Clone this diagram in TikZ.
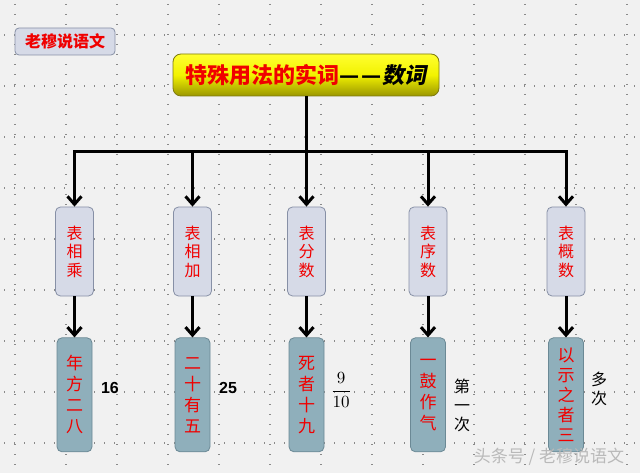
\documentclass[tikz,border=0pt]{standalone}
\usepackage{fontspec}
\setmainfont{Liberation Serif}
\newfontfamily\cjk{Noto Sans CJK SC}
\newfontfamily\cjkslant[FakeSlant=0.2]{Noto Sans CJK SC}
\newfontfamily\arial{Liberation Sans}
\usepackage{tikz}
\usetikzlibrary{arrows.meta, positioning}
\definecolor{pagegray}{HTML}{F1F1F1}
\definecolor{gridgray}{HTML}{8A8A8A}
\definecolor{wordred}{HTML}{F00000}
\definecolor{catfill}{HTML}{D6DAE7}
\definecolor{catedge}{HTML}{8790A6}
\definecolor{wordfill}{HTML}{8FAFBB}
\definecolor{wordedge}{HTML}{6B8995}
\definecolor{titletop}{HTML}{FFFF30}
\definecolor{titlebot}{HTML}{9A9600}
\definecolor{titleedge}{HTML}{7E7A10}

\begin{document}
\begin{tikzpicture}[x=1pt, y=-1pt,
    catbox/.style={draw=catedge, fill=catfill, rounded corners=5pt, line width=0.8pt,
                   minimum width=38pt, minimum height=89pt, inner sep=0pt, align=center,
                   text=wordred, font=\cjk\fontsize{16}{18.5}\selectfont},
    wordbox/.style={draw=wordedge, fill=wordfill, rounded corners=5pt, line width=0.8pt,
                    minimum width=35pt, minimum height=114pt, inner sep=0pt, align=center,
                    text=wordred, font=\cjk\fontsize{17}{21}\selectfont},
    note/.style={align=center, inner sep=0pt, font=\cjk\fontsize{16}{19}\selectfont},
    link/.style={line width=3pt, -{Straight Barb[length=8pt, width=14pt]}},
]
    % page and dotted grid
    \fill[pagegray] (0,0) rectangle (640,473);
    \useasboundingbox (0,0) rectangle (640,473);
    \foreach \gx in {15,66,...,627}
        \draw[gridgray, line width=1.1pt, dash pattern=on 1.1pt off 8.9pt] (\gx,4) -- (\gx,473);
    \foreach \gy in {35,86,...,443}
        \draw[gridgray, line width=1.1pt, dash pattern=on 1.1pt off 8.9pt] (4,\gy) -- (640,\gy);

    % tag and title
    \node[draw=catedge, fill=catfill, rounded corners=4pt, line width=0.8pt,
          minimum width=100pt, minimum height=27pt, text=wordred,
          font=\cjk\bfseries\fontsize{16}{18}\selectfont] (tag) at (65,41.5) {老穆说语文};
    \node[draw=titleedge, top color=titletop, bottom color=titlebot, middle color=yellow!95!black,
          rounded corners=8pt, line width=0.8pt, minimum width=266pt, minimum height=42pt,
          font=\cjk\bfseries\fontsize{22}{24}\selectfont] (title) at (306,75)
          {\textcolor{wordred}{特殊用法的实词}—\kern2pt—{\cjkslant 数词}};

    % five kinds
    \node[catbox] (m1) at (74.5,251.5) {表\\相\\乘};
    \node[catbox] (m2) at (192.5,251.5) {表\\相\\加};
    \node[catbox] (m3) at (306.5,251.5) {表\\分\\数};
    \node[catbox] (m4) at (428,251.5) {表\\序\\数};
    \node[catbox] (m5) at (566,251.5) {表\\概\\数};

    % examples
    \node[wordbox, below=41pt of m1] (w1) {年\\方\\二\\八};
    \node[wordbox, below=41pt of m2] (w2) {二\\十\\有\\五};
    \node[wordbox, below=41pt of m3] (w3) {死\\者\\十\\九};
    \node[wordbox, below=41pt of m4] (w4) {一\\鼓\\作\\气};
    \node[wordbox, below=41pt of m5, font=\cjk\fontsize{17}{20}\selectfont] (w5) {以\\示\\之\\者\\三};

    % meanings
    \node[font=\arial\bfseries\fontsize{16}{18}\selectfont] (n1) at (110,388) {16};
    \node[font=\arial\bfseries\fontsize{16}{18}\selectfont] (n2) at (228,388) {25};
    \node (n3) at (341,390) {\scalebox{1.7}{$\displaystyle\frac{9}{10}$}};
    \node[note] (n4) at (462,405) {第\\一\\次};
    \node[note] (n5) at (599,389) {多\\次};

    % tree lines
    \coordinate (bus) at (306,152);
    \draw[line width=3pt] (title.south) -- (bus);
    \draw[line width=3pt, line cap=rect] (bus -| m1) -- (bus -| m5);
    \foreach \k in {1,...,5} {
        \draw[link] (bus -| m\k) -- (m\k.north);
        \draw[link] (m\k.south) -- (w\k.north);
    }

    % watermark
    \node[text=gray!55, font=\cjk\fontsize{17}{19}\selectfont] (mark) at (549,457) {头条号 / 老穆说语文};
\end{tikzpicture}
\end{document}
